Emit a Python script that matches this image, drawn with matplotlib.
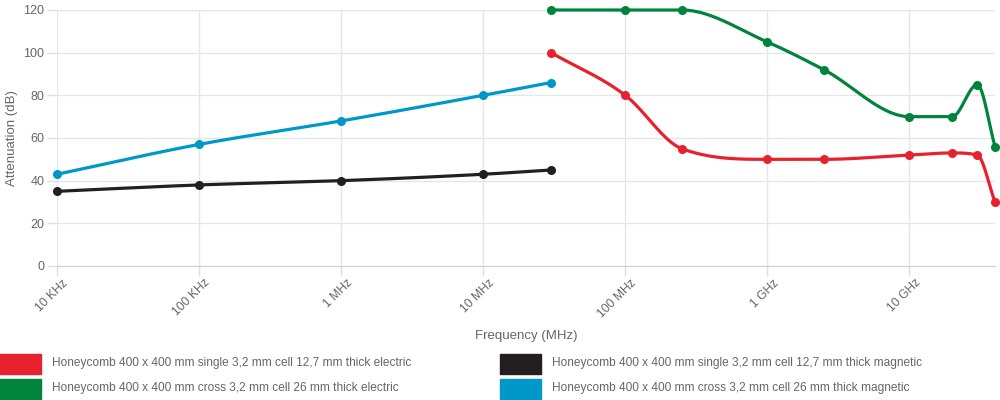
import numpy as np
import matplotlib
matplotlib.use("Agg")
import matplotlib.pyplot as plt
from matplotlib.patches import Rectangle
from matplotlib.transforms import ScaledTranslation

plt.rcParams["font.family"] = ["Liberation Sans", "DejaVu Sans"]

# frequencies in MHz
freq_low = [0.01, 0.1, 1, 10, 30]
freq_high = [30, 100, 250, 1000, 2500, 10000, 20000, 30000, 40000]

single_magnetic = [35, 38, 40, 43, 45]
cross_magnetic = [43, 57, 68, 80, 86]
single_electric = [100, 80, 55, 50, 50, 52, 53, 52, 30]
cross_electric = [120, 120, 120, 105, 92, 70, 70, 85, 56]

labels = [
    "Honeycomb 400 x 400 mm single 3,2 mm cell 12,7 mm thick electric",
    "Honeycomb 400 x 400 mm single 3,2 mm cell 12,7 mm thick magnetic",
    "Honeycomb 400 x 400 mm cross 3,2 mm cell 26 mm thick electric",
    "Honeycomb 400 x 400 mm cross 3,2 mm cell 26 mm thick magnetic",
]
colors = ["#e8212f", "#231f20", "#00843c", "#0097c9"]

tick_vals = [0.01, 0.1, 1, 10, 100, 1000, 10000]
tick_labels = ["10 KHz", "100 KHz", "1 MHz", "10 MHz", "100 MHz", "1 GHz", "10 GHz"]

grey = "#666666"


def monotone(xs, ys, n=40):
    # monotone cubic like chart.js, done in log-x space
    lx = np.log10(np.array(xs, dtype=float))
    y = np.array(ys, dtype=float)
    k = len(lx)
    dk = np.diff(y) / np.diff(lx)
    m = np.zeros(k)
    for i in range(k):
        if i == 0:
            m[i] = dk[0]
        elif i == k - 1:
            m[i] = dk[-1]
        elif np.sign(dk[i - 1]) != np.sign(dk[i]):
            m[i] = 0
        else:
            m[i] = (dk[i - 1] + dk[i]) / 2
    for i in range(k - 1):
        if abs(dk[i]) < 1e-9:
            m[i] = m[i + 1] = 0
            continue
        a = m[i] / dk[i]
        b = m[i + 1] / dk[i]
        s = a * a + b * b
        if s <= 9:
            continue
        tau = 3 / np.sqrt(s)
        m[i] = a * tau * dk[i]
        m[i + 1] = b * tau * dk[i]
    px, py = [], []
    for i in range(k - 1):
        h = lx[i + 1] - lx[i]
        t = np.linspace(0, 1, n)
        h00 = 2 * t**3 - 3 * t**2 + 1
        h10 = t**3 - 2 * t**2 + t
        h01 = -2 * t**3 + 3 * t**2
        h11 = t**3 - t**2
        yy = h00 * y[i] + h10 * h * m[i] + h01 * y[i + 1] + h11 * h * m[i + 1]
        px.extend(lx[i] + t * h)
        py.extend(np.clip(yy, 0, 120))
    return 10 ** np.array(px), np.array(py)


fig = plt.figure(figsize=(10, 4), dpi=100)
ax = fig.add_axes([0.057, 0.335, 0.938, 0.64])

series = [
    (freq_high, single_electric, colors[0]),
    (freq_low, single_magnetic, colors[1]),
    (freq_high, cross_electric, colors[2]),
    (freq_low, cross_magnetic, colors[3]),
]
for xs, ys, c in series:
    sx, sy = monotone(xs, ys)
    ax.plot(sx, sy, color=c, lw=2.3, solid_capstyle="round", zorder=3, clip_on=False)
    ax.plot(xs, ys, "o", color=c, ms=5.5, zorder=4, clip_on=False)

ax.set_xscale("log")
ax.set_xlim(0.01, 40000)
ax.set_ylim(0, 120)
ax.set_yticks(range(0, 121, 20))
ax.set_xticks(tick_vals)
ax.set_xticklabels([""] * len(tick_vals))
ax.xaxis.set_minor_locator(matplotlib.ticker.NullLocator())

# rotated x labels, drawn by hand so they can sit a bit right of the tick
lab_tr = ax.get_xaxis_transform() + ScaledTranslation(5 / 100, -11 / 100, fig.dpi_scale_trans)
for v, t in zip(tick_vals, tick_labels):
    ax.text(v, 0, t, transform=lab_tr, rotation=45, ha="right", va="top",
            rotation_mode="anchor", color=grey, fontsize=8.7)

ax.grid(True, color="#e6e6e6", lw=1)
ax.set_axisbelow(True)
for s in ["top", "right", "left"]:
    ax.spines[s].set_visible(False)
ax.spines["bottom"].set_color("#d0d0d0")
ax.tick_params(axis="both", colors="#e0e0e0", labelcolor=grey, labelsize=9, length=7, width=1)
ax.tick_params(axis="y", pad=2)

ax.set_ylabel("Attenuation (dB)", color=grey, fontsize=9.5, labelpad=6)
ax.yaxis.set_label_coords(-0.042, 0.5)
ax.set_xlabel("Frequency (MHz)", color=grey, fontsize=9.5)
ax.xaxis.set_label_coords(0.5, -0.25)

# legend
rows = [(0.0, 0.09), (0.5, 0.09), (0.0, 0.028), (0.5, 0.028)]
for (lx, ly), c, lab in zip(rows, colors, labels):
    fig.patches.append(Rectangle((lx, ly - 0.025), 0.041, 0.05, color=c, transform=fig.transFigure))
    fig.text(lx + 0.052, ly + 0.003, lab, color=grey, fontsize=8.6, va="center")

fig.savefig("out.png", dpi=100)
